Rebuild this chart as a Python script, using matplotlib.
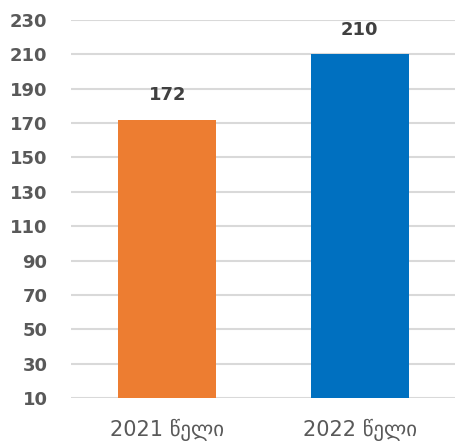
import matplotlib.pyplot as plt
from matplotlib import font_manager

# data
years = ['2021 წელი', '2022 წელი']
values = [172, 210]
colors = ['#ED7D31', '#0070C0']
yticks = list(range(10, 231, 20))

names = {f.name for f in font_manager.fontManager.ttflist}
xfont = 'DejaVu Sans Condensed' if 'DejaVu Sans Condensed' in names else 'DejaVu Sans'
xsize = 17 if xfont == 'DejaVu Sans Condensed' else 15

fig = plt.figure(figsize=(4.56, 4.45), dpi=100)
ax = fig.add_axes([0.156, 0.1056, 0.844, 0.8494])

ax.bar(range(len(years)), values, width=0.51, color=colors, zorder=3)

# value labels above the bars
for i, v in enumerate(values):
    ax.annotate(str(v), (i, v), xytext=(0, 14), textcoords='offset points',
                ha='center', va='baseline', fontsize=13, fontweight='bold',
                color='#404040', family='DejaVu Sans')

ax.set_xlim(-0.5, 1.5)
ax.set_ylim(10, 230)
ax.set_yticks(yticks)
ax.set_xticks(range(len(years)))
ax.set_xticklabels(years, family=xfont, fontsize=xsize, color='#595959')
for lab in ax.get_yticklabels():
    lab.set_family('DejaVu Sans')
    lab.set_fontweight('bold')
    lab.set_fontsize(13)
    lab.set_color('#595959')

ax.grid(axis='y', color='#d9d9d9', linewidth=1.5, zorder=0)
for s in ax.spines.values():
    s.set_visible(False)
ax.tick_params(axis='y', length=0, pad=17)
ax.tick_params(axis='x', length=0, pad=15)

fig.savefig('out.png', dpi=100)
